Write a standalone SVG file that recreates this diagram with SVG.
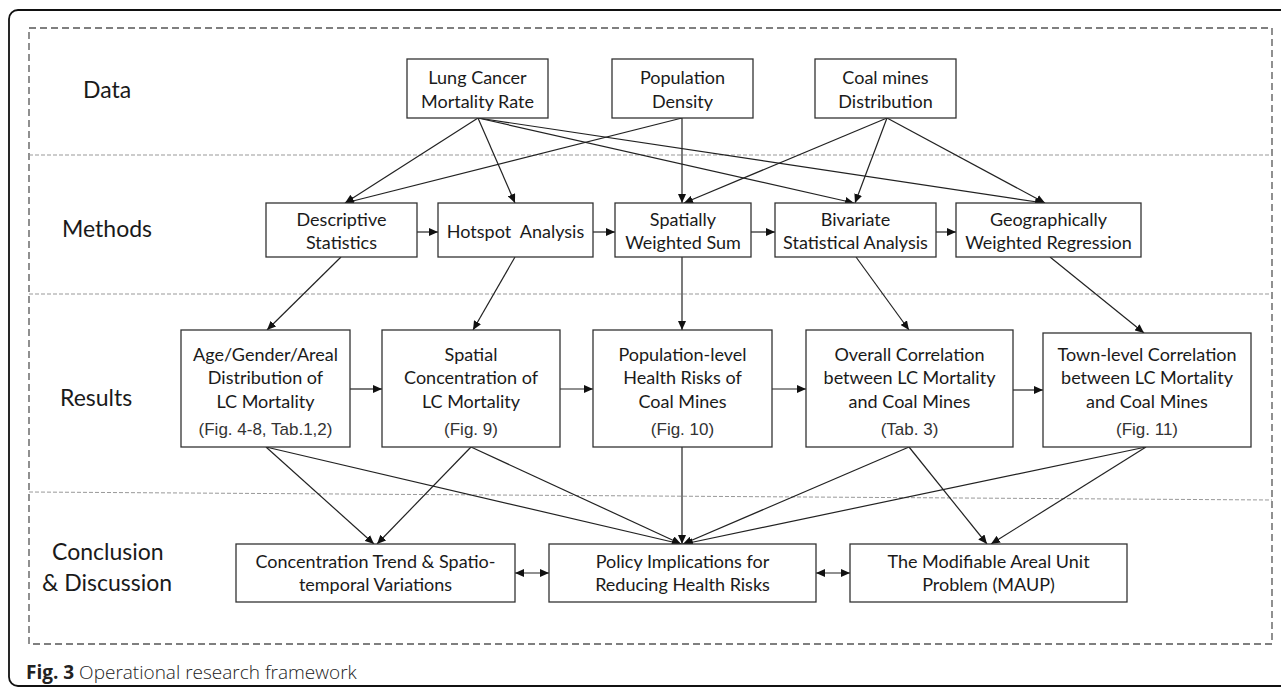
<svg xmlns="http://www.w3.org/2000/svg" width="1281" height="687" viewBox="0 0 1281 687">
<defs>
<style>
.frame{fill:none;stroke:#111;stroke-width:1.8}
.outer{fill:none;stroke:#555;stroke-width:1.3;stroke-dasharray:7 4}
.sep{fill:none;stroke:#999;stroke-width:1;stroke-dasharray:4 2}
.box{fill:#fff;stroke:#333;stroke-width:1.3}
.t{font-family:Lato,"Open Sans",sans-serif;font-size:18px;fill:#1a1a1a;text-anchor:middle}
.p{font-family:"Liberation Sans",Arial,sans-serif;font-size:17px;fill:#333;text-anchor:middle}
.lab{font-family:Lato,"Open Sans",sans-serif;font-size:23px;fill:#1a1a1a}
.cap{font-family:"Open Sans",sans-serif;font-size:19px;fill:#222}
.c{fill:none;stroke:#222;stroke-width:1.2}
</style>
<marker id="ah" markerUnits="userSpaceOnUse" markerWidth="10" markerHeight="8" refX="9" refY="4" orient="auto-start-reverse">
<path d="M0,0 L9,4 L0,8 Z" fill="#111"/>
</marker>
</defs>
<rect x="9" y="10" width="1290" height="676" rx="9" class="frame"/>
<rect x="29" y="28" width="1243" height="616" class="outer"/>
<line x1="29" y1="155" x2="1272" y2="155" class="sep"/>
<line x1="29" y1="294" x2="1272" y2="294" class="sep"/>
<line x1="29" y1="492" x2="1272" y2="500" class="sep"/>

<g id="labels">
<text class="lab" x="83" y="98">Data</text>
<text class="lab" x="62" y="237">Methods</text>
<text class="lab" x="60" y="406">Results</text>
<text class="lab" x="52" y="560">Conclusion</text>
<text class="lab" x="42" y="591">&amp; Discussion</text>
</g>

<g id="connectors">
<line x1="478" y1="118" x2="345" y2="203" class="c" marker-end="url(#ah)"/>
<line x1="478" y1="118" x2="515" y2="203" class="c" marker-end="url(#ah)"/>
<line x1="478" y1="118" x2="854" y2="203" class="c" marker-end="url(#ah)"/>
<line x1="478" y1="118" x2="1044" y2="203" class="c" marker-end="url(#ah)"/>
<line x1="682" y1="118" x2="345" y2="203" class="c" marker-end="url(#ah)"/>
<line x1="682" y1="118" x2="682" y2="203" class="c" marker-end="url(#ah)"/>
<line x1="887" y1="118" x2="684" y2="203" class="c" marker-end="url(#ah)"/>
<line x1="887" y1="118" x2="855" y2="203" class="c" marker-end="url(#ah)"/>
<line x1="887" y1="118" x2="1045" y2="203" class="c" marker-end="url(#ah)"/>

<line x1="417" y1="232" x2="438" y2="232" class="c" marker-end="url(#ah)"/>
<line x1="593" y1="232" x2="615" y2="232" class="c" marker-end="url(#ah)"/>
<line x1="751" y1="232" x2="775" y2="232" class="c" marker-end="url(#ah)"/>
<line x1="936" y1="232" x2="956" y2="232" class="c" marker-end="url(#ah)"/>

<line x1="341" y1="257" x2="267" y2="330" class="c" marker-end="url(#ah)"/>
<line x1="515" y1="257" x2="473" y2="330" class="c" marker-end="url(#ah)"/>
<line x1="682" y1="257" x2="682" y2="330" class="c" marker-end="url(#ah)"/>
<line x1="856" y1="257" x2="909" y2="330" class="c" marker-end="url(#ah)"/>
<line x1="1050" y1="257" x2="1144" y2="333" class="c" marker-end="url(#ah)"/>

<line x1="350" y1="389" x2="382" y2="389" class="c" marker-end="url(#ah)"/>
<line x1="560" y1="389" x2="593" y2="389" class="c" marker-end="url(#ah)"/>
<line x1="772" y1="389" x2="806" y2="389" class="c" marker-end="url(#ah)"/>
<line x1="1013" y1="390" x2="1043" y2="390" class="c" marker-end="url(#ah)"/>

<line x1="266" y1="447" x2="374" y2="544" class="c" marker-end="url(#ah)"/>
<line x1="266" y1="447" x2="681" y2="544" class="c" marker-end="url(#ah)"/>
<line x1="471" y1="447" x2="377" y2="544" class="c" marker-end="url(#ah)"/>
<line x1="471" y1="447" x2="681" y2="544" class="c" marker-end="url(#ah)"/>
<line x1="682" y1="447" x2="682" y2="544" class="c" marker-end="url(#ah)"/>
<line x1="909" y1="447" x2="683" y2="544" class="c" marker-end="url(#ah)"/>
<line x1="909" y1="447" x2="987" y2="544" class="c" marker-end="url(#ah)"/>
<line x1="1146" y1="447" x2="684" y2="544" class="c" marker-end="url(#ah)"/>
<line x1="1146" y1="447" x2="991" y2="544" class="c" marker-end="url(#ah)"/>

<line x1="515" y1="573" x2="549" y2="573" class="c" marker-start="url(#ah)" marker-end="url(#ah)"/>
<line x1="816" y1="573" x2="850" y2="573" class="c" marker-start="url(#ah)" marker-end="url(#ah)"/>
</g>

<g id="n-lung"><rect class="box" x="407" y="59" width="141" height="59"/><text class="t" x="477.5" y="84">Lung Cancer</text><text class="t" x="477.5" y="108">Mortality Rate</text></g>
<g id="n-pop"><rect class="box" x="612" y="59" width="141" height="59"/><text class="t" x="682.5" y="84">Population</text><text class="t" x="682.5" y="108">Density</text></g>
<g id="n-coal"><rect class="box" x="815" y="59" width="141" height="59"/><text class="t" x="885.5" y="84">Coal mines</text><text class="t" x="885.5" y="108">Distribution</text></g>

<g id="n-desc"><rect class="box" x="266" y="203" width="151" height="54"/><text class="t" x="341.5" y="226">Descriptive</text><text class="t" x="341.5" y="249">Statistics</text></g>
<g id="n-hot"><rect class="box" x="438" y="203" width="155" height="54"/><text class="t" x="515.5" y="238" xml:space="preserve">Hotspot  Analysis</text></g>
<g id="n-sws"><rect class="box" x="615" y="203" width="136" height="54"/><text class="t" x="683" y="226">Spatially</text><text class="t" x="683" y="249">Weighted Sum</text></g>
<g id="n-biv"><rect class="box" x="775" y="203" width="161" height="54"/><text class="t" x="855.5" y="226">Bivariate</text><text class="t" x="855.5" y="249">Statistical Analysis</text></g>
<g id="n-gwr"><rect class="box" x="956" y="203" width="185" height="54"/><text class="t" x="1048.5" y="226">Geographically</text><text class="t" x="1048.5" y="249">Weighted Regression</text></g>

<g id="n-age"><rect class="box" x="181" y="330" width="169" height="117"/><text class="t" x="265.5" y="361">Age/Gender/Areal</text><text class="t" x="265.5" y="384">Distribution of</text><text class="t" x="265.5" y="408">LC Mortality</text><text class="p" x="265.5" y="435">(Fig. 4-8, Tab.1,2)</text></g>
<g id="n-spc"><rect class="box" x="382" y="330" width="178" height="117"/><text class="t" x="471" y="361">Spatial</text><text class="t" x="471" y="384">Concentration of</text><text class="t" x="471" y="408">LC Mortality</text><text class="p" x="471" y="435">(Fig. 9)</text></g>
<g id="n-phr"><rect class="box" x="593" y="330" width="179" height="117"/><text class="t" x="682.5" y="361">Population-level</text><text class="t" x="682.5" y="384">Health Risks of</text><text class="t" x="682.5" y="408">Coal Mines</text><text class="p" x="682.5" y="435">(Fig. 10)</text></g>
<g id="n-ovc"><rect class="box" x="806" y="330" width="207" height="117"/><text class="t" x="909.5" y="361">Overall Correlation</text><text class="t" x="909.5" y="384">between LC Mortality</text><text class="t" x="909.5" y="408">and Coal Mines</text><text class="p" x="909.5" y="435">(Tab. 3)</text></g>
<g id="n-twc"><rect class="box" x="1043" y="333" width="208" height="114"/><text class="t" x="1147" y="361">Town-level Correlation</text><text class="t" x="1147" y="384">between LC Mortality</text><text class="t" x="1147" y="408">and Coal Mines</text><text class="p" x="1147" y="435">(Fig. 11)</text></g>

<g id="n-conc"><rect class="box" x="236" y="544" width="279" height="58"/><text class="t" x="375.5" y="568">Concentration Trend &amp; Spatio-</text><text class="t" x="375.5" y="591">temporal Variations</text></g>
<g id="n-pol"><rect class="box" x="549" y="544" width="267" height="58"/><text class="t" x="682.5" y="568">Policy Implications for</text><text class="t" x="682.5" y="591">Reducing Health Risks</text></g>
<g id="n-maup"><rect class="box" x="850" y="544" width="277" height="58"/><text class="t" x="988.5" y="568">The Modifiable Areal Unit</text><text class="t" x="988.5" y="591">Problem (MAUP)</text></g>

<text class="cap" x="26" y="679"><tspan font-weight="700">Fig. 3</tspan><tspan font-weight="300"> Operational research framework</tspan></text>
</svg>
